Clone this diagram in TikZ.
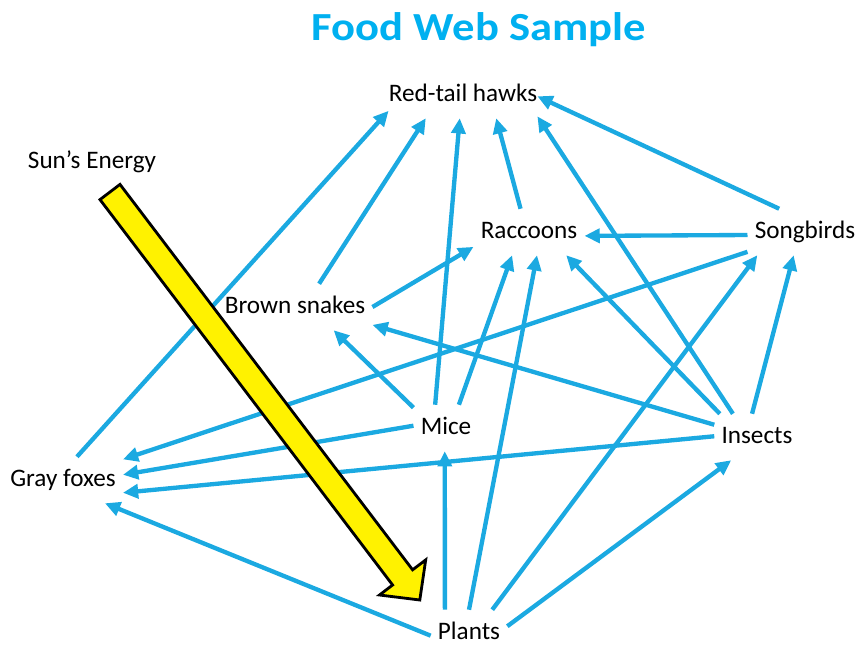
\documentclass[tikz,border=0pt]{standalone}
\usepackage{fontspec}
\usepackage{graphicx}
\setmainfont{Carlito}
\usetikzlibrary{arrows.meta}
\definecolor{webblue}{RGB}{27,169,225}
\definecolor{titleblue}{RGB}{0,176,240}
\begin{document}
\begin{tikzpicture}[x=0.03cm,y=-0.03cm,
	lbl/.style={font=\fontsize{21.5}{25}\selectfont,inner xsep=6pt,inner ysep=10pt,text height=15pt,text depth=4.3pt},
	web/.style={draw=webblue,line width=3.7pt,-{Triangle[length=13pt,width=12pt]}}]
				\useasboundingbox (0,0) rectangle (859,647);
				\node[text=titleblue,font=\fontsize{34}{40}\selectfont\bfseries] (T) at (479,30) {\scalebox{1.12}[1]{Food Web Sample}};
				\node[lbl,inner xsep=0pt] (RH) at (463,95) {Red-tail hawks};
				\node[lbl] (SE) at (92,162) {Sun’s Energy};
				\node[lbl] (RC) at (529,232) {Raccoons};
				\node[lbl] (SB) at (805,232) {Songbirds};
				\node[lbl] (BS) at (295,307) {Brown snakes};
				\node[lbl] (MI) at (446,428) {Mice};
				\node[lbl] (IN) at (757,437) {Insects};
				\node[lbl] (GF) at (63,480) {Gray foxes};
				\node[lbl] (PL) at (469,633) {Plants};
				
				\draw[web] (GF.59) -- (RH.192.8);
				\draw[web] (BS.44) -- (RH.212.2);
				\draw[web] (MI.115) -- (RH.262.4);
				\draw[web] (RC.110) -- (RH.325.9);
				\draw[web] (IN.136.2) -- (RH.344);
				\draw[web] (SB.138.6) -- (RH.359);
				
				\draw[web] (SB.183) -- (RC.356.9);
				\draw[web] (BS.0.4) -- (RC.195);
				\draw[web] (MI.61.1) -- (RC.234.7);
				\draw[web] (PL.90.7) -- (RC.289.9);
				\draw[web] (IN.148.7) -- (RC.328.7);
				
				\draw[web] (MI.148.6) -- (BS.329.5);
				\draw[web] (IN.164.2) -- (BS.347);
				
				\draw[web] (SB.199.7) -- (GF.19.3);
				\draw[web] (MI.176) -- (GF.5.6);
				\draw[web] (IN.179) -- (GF.348);
				\draw[web] (PL.184.1) -- (GF.331);
				
				\draw[web] (PL.136) -- (MI.267.5);
				\draw[web] (PL.45.4) -- (SB.206.2);
				\draw[web] (PL.10.9) -- (IN.222.9);
				\draw[web] (IN.102.6) -- (SB.244);
				
				\draw[line width=2.4pt,fill=yellow,line join=miter] (100,199.6) -- (392.6,585) -- (379.5,595) -- (419.8,600) -- (425.7,559.9) -- (412.6,569.8) -- (120,184.4) -- cycle;
			\end{tikzpicture}
\end{document}
